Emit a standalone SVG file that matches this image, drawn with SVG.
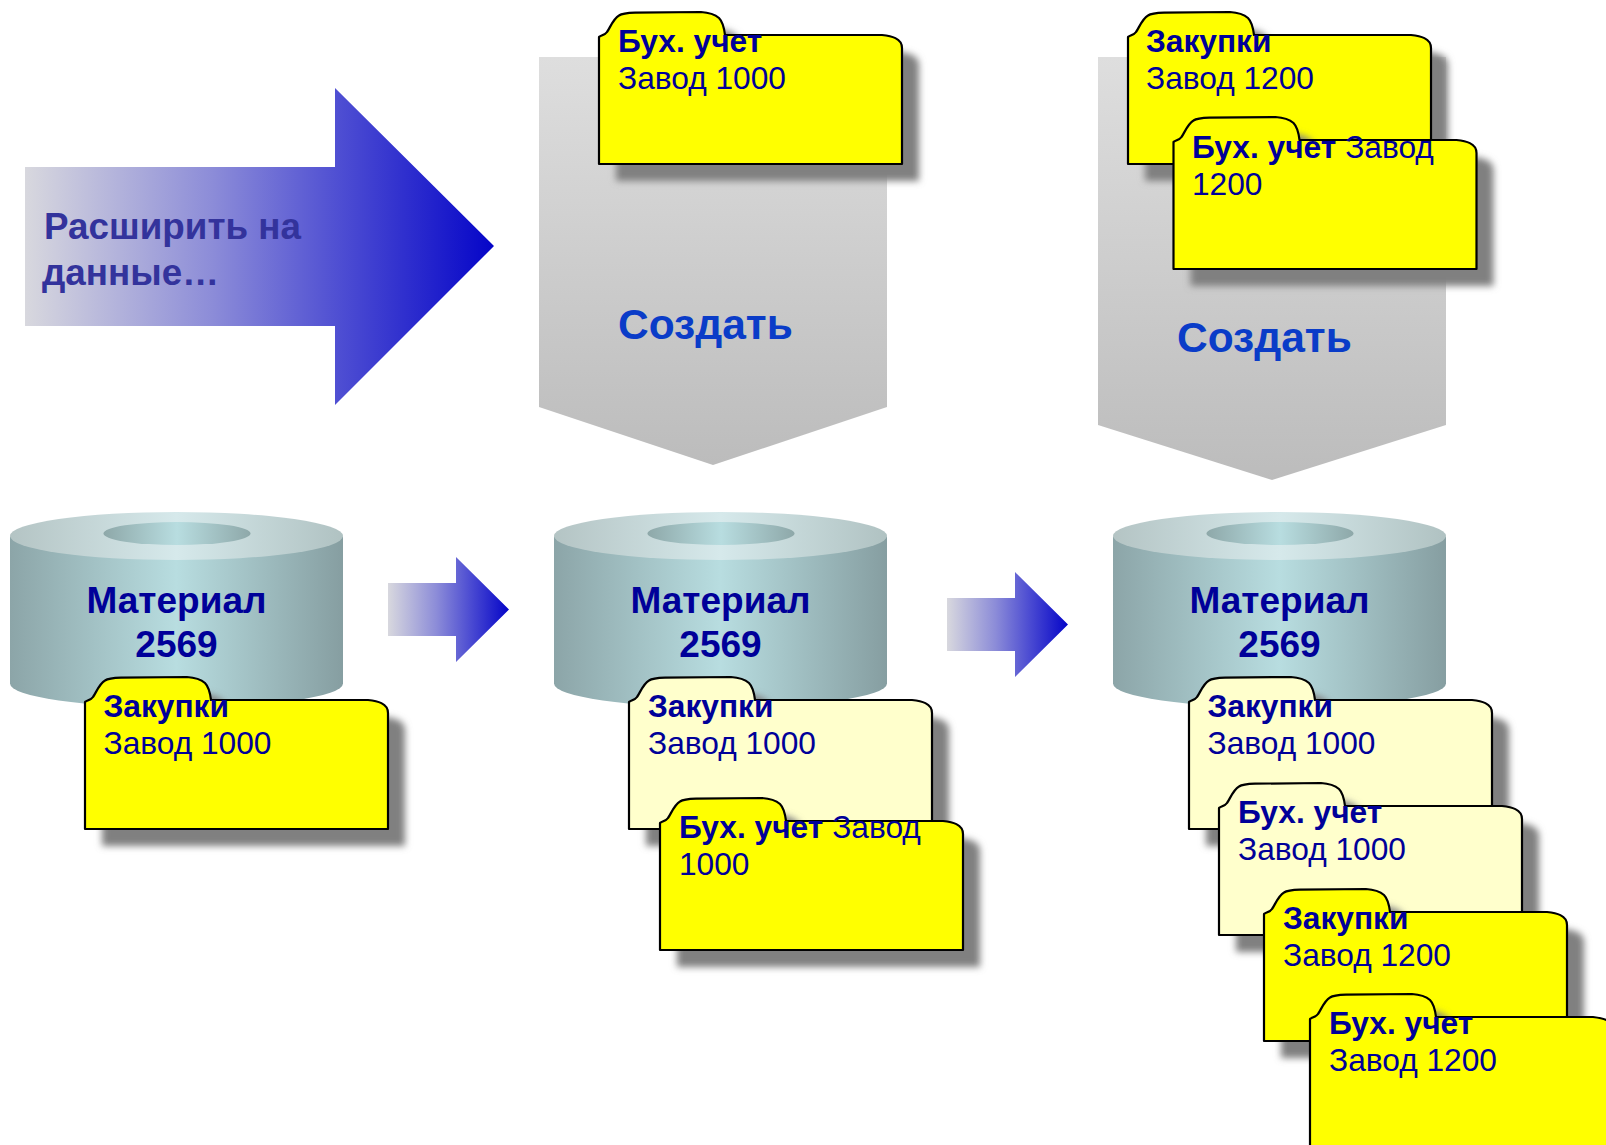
<svg xmlns="http://www.w3.org/2000/svg" xmlns:xlink="http://www.w3.org/1999/xlink" width="1606" height="1145" viewBox="0 0 1606 1145">
<style>
text{font-family:"Liberation Sans",Arial,sans-serif}
.lab{font-size:31.7px;fill:#000099}
.lab .b{font-weight:bold}
.mat{font-size:37px;font-weight:bold;fill:#000099;text-anchor:middle}
.cre{font-size:42.5px;font-weight:bold;fill:#0a3cc8}
.ext{font-size:36.8px;font-weight:bold;fill:#33339c}
.edge{stroke:#000;stroke-width:2.2;stroke-linejoin:round}
.y{fill:#ffff00}
.p{fill:#ffffcc}
.sh{fill:#808080;filter:url(#blur)}
.body{fill:url(#cyl)}
.top{fill:url(#cylTop)}
.hole{fill:url(#cyl2)}
.pent{fill:url(#pent)}
.arr{fill:url(#arr)}
</style>
<defs>
<filter id="blur" x="-10%" y="-10%" width="120%" height="125%"><feGaussianBlur stdDeviation="3.500"/></filter>
<linearGradient id="cyl"><stop offset="0" stop-color="#8ca5a8"/><stop offset=".5" stop-color="#b8dde0"/><stop offset="1" stop-color="#869ea1"/></linearGradient>
<linearGradient id="cyl2"><stop offset="0" stop-color="#8ea8a9"/><stop offset=".5" stop-color="#b8dde0"/><stop offset="1" stop-color="#8ea8a9"/></linearGradient>
<linearGradient id="cylTop"><stop offset="0" stop-color="#b4c4c4"/><stop offset=".5" stop-color="#d6e9eb"/><stop offset="1" stop-color="#b0c2c2"/></linearGradient>
<linearGradient id="pent" x1="0" y1="0" x2="0" y2="1"><stop offset="0" stop-color="#dedede"/><stop offset="1" stop-color="#bcbcbc"/></linearGradient>
<linearGradient id="arr"><stop offset="0" stop-color="#d8d8de"/><stop offset=".4" stop-color="#8c8cd8"/><stop offset=".68" stop-color="#4c4cd2"/><stop offset="1" stop-color="#0505c8"/></linearGradient>
<path id="folder" d="M0,129V2C3,0 6,0 8,-3C11,-7 14,-16 20,-19.500C23,-21.500 28,-22 36,-22.300L102,-23C110,-22.500 116,-20.500 120,-17C124,-13 125,-8 126,0H283C292,1 303,3 303,13V129Z"/>
<g id="disk">
<path class="body" d="M0,25V172A166.500,24 0 0 0 333,172V25Z"/>
<ellipse class="top" cx="166.500" cy="24.500" rx="166.500" ry="24"/>
<ellipse class="hole" cx="167" cy="22" rx="73.500" ry="11.500"/>
<text class="mat" x="166.500" y="101">Материал</text>
<text class="mat" x="166.500" y="145">2569</text>
</g>
</defs>

<g id="arrow-extend"><path class="arr" d="M25,167H335V88L494,246L335,405V326H25Z"/><text class="ext" x="44" y="238.500">Расширить на</text><text class="ext" x="42" y="285">данные…</text></g>

<g id="create-1"><path class="pent" d="M539,57H887V407L713,465L539,407Z"/><text class="cre" x="618" y="339">Создать</text></g>
<g id="create-2"><path class="pent" d="M1098,57H1446V425L1272,480L1098,425Z"/><text class="cre" x="1177" y="352">Создать</text></g>

<g id="disk-1" transform="translate(10,511.500)"><use xlink:href="#disk" href="#disk"/></g>
<g id="disk-2" transform="translate(554,511.500)"><use xlink:href="#disk" href="#disk"/></g>
<g id="disk-3" transform="translate(1113,511.500)"><use xlink:href="#disk" href="#disk"/></g>

<g id="connectors">
<path class="arr" d="M388,583H456V557L509,609.500L456,662V636H388Z"/>
<path class="arr" d="M947,598H1015V572L1068,624.500L1015,677V651H947Z"/>
</g>

<g id="f1-purchasing-1000" transform="translate(85,700)"><use href="#folder" class="sh" x="17" y="17"/><use href="#folder" class="y edge"/><text class="lab"><tspan class="b" x="18.500" y="17">Закупки</tspan><tspan x="18.500" y="54">Завод 1000</tspan></text></g>

<g id="f2-accounting-1000-top" transform="translate(599,35)"><use href="#folder" class="sh" x="17" y="17"/><use href="#folder" class="y edge"/><text class="lab"><tspan class="b" x="19" y="17">Бух. учет</tspan><tspan x="19" y="54">Завод 1000</tspan></text></g>
<g id="f2-purchasing-1000" transform="translate(629,700)"><use href="#folder" class="sh" x="17" y="17"/><use href="#folder" class="p edge"/><text class="lab"><tspan class="b" x="19" y="17">Закупки</tspan><tspan x="19" y="54">Завод 1000</tspan></text></g>
<g id="f2-accounting-1000" transform="translate(660,821)"><use href="#folder" class="sh" x="17" y="17"/><use href="#folder" class="y edge"/><text class="lab"><tspan class="b" x="19" y="17">Бух. учет</tspan><tspan> Завод</tspan><tspan x="19" y="54">1000</tspan></text></g>

<g id="f3-purchasing-1200-top" transform="translate(1128,35)"><use href="#folder" class="sh" x="17" y="17"/><use href="#folder" class="y edge"/><text class="lab"><tspan class="b" x="18" y="17">Закупки</tspan><tspan x="18" y="54">Завод 1200</tspan></text></g>
<g id="f3-accounting-1200-top" transform="translate(1173.500,140)"><use href="#folder" class="sh" x="17" y="17"/><use href="#folder" class="y edge"/><text class="lab"><tspan class="b" x="18.500" y="18">Бух. учет</tspan><tspan> Завод</tspan><tspan x="18.500" y="55">1200</tspan></text></g>

<g id="f3-purchasing-1000" transform="translate(1189,700)"><use href="#folder" class="sh" x="17" y="17"/><use href="#folder" class="p edge"/><text class="lab"><tspan class="b" x="18.500" y="17">Закупки</tspan><tspan x="18.500" y="54">Завод 1000</tspan></text></g>
<g id="f3-accounting-1000" transform="translate(1219,806)"><use href="#folder" class="sh" x="17" y="17"/><use href="#folder" class="p edge"/><text class="lab"><tspan class="b" x="19" y="17">Бух. учет</tspan><tspan x="19" y="54">Завод 1000</tspan></text></g>
<g id="f3-purchasing-1200" transform="translate(1264,912)"><use href="#folder" class="sh" x="17" y="17"/><use href="#folder" class="y edge"/><text class="lab"><tspan class="b" x="19" y="17">Закупки</tspan><tspan x="19" y="54">Завод 1200</tspan></text></g>
<g id="f3-accounting-1200" transform="translate(1310,1017)"><use href="#folder" class="sh" x="17" y="17"/><use href="#folder" class="y edge"/><text class="lab"><tspan class="b" x="19" y="17">Бух. учет</tspan><tspan x="19" y="54">Завод 1200</tspan></text></g>
</svg>
